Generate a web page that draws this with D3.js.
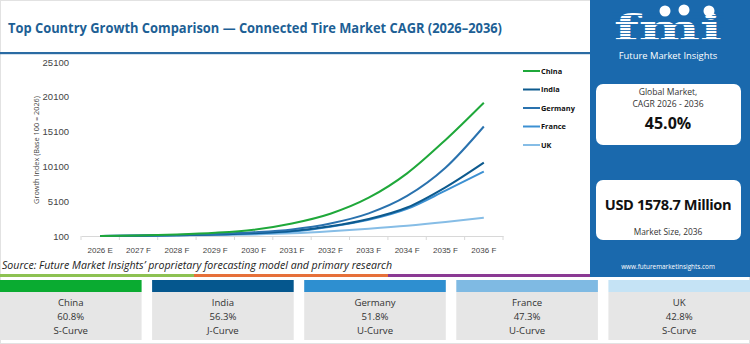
<!DOCTYPE html>
<html lang="en">
<head>
  <meta charset="UTF-8">
  <title>Connected Tire Market CAGR</title>
  <script src="https://d3js.org/d3.v7.min.js"></script>
  <style>
    body, html {
      margin: 0;
      padding: 0;
      background: #fff;
    }
    svg { display: block; font-family: "Open Sans", Roboto, sans-serif; }
    .axis text { fill: #444; }
    .axis path, .axis line { stroke: #d8d8d8; }
  </style>
</head>
<body>
  <svg id="chart" width="750" height="344"></svg>

  <script>
    // data
    const years = ["2026 E", "2027 F", "2028 F", "2029 F", "2030 F", "2031 F",
                   "2032 F", "2033 F", "2034 F", "2035 F", "2036 F"];
    const china   = [100, 180, 320, 560, 1000, 1900, 3300, 5600, 9100, 13900, 19250];
    const india   = [100, 145, 215, 320, 500, 820, 1500, 2550, 4200, 7100, 10650];
    const germany = [100, 160, 255, 400, 640, 1050, 1900, 3350, 5850, 9900, 15830];
    const france  = [100, 140, 205, 300, 455, 730, 1420, 2420, 4000, 6620, 9350];
    const uk      = [100, 130, 170, 230, 330, 490, 776, 1150, 1580, 2115, 2730];
    const yTicks = [100, 5100, 10100, 15100, 20100, 25100];

    const countries = ["China", "India", "Germany", "France", "UK"];
    const cagr = ["60.8%", "56.3%", "51.8%", "47.3%", "42.8%"];
    const curveType = ["S-Curve", "J-Curve", "U-Curve", "U-Curve", "S-Curve"];
    const lineColors = ["#1fa83a", "#0d5a8e", "#2a72ae", "#3c90d2", "#86bde6"];
    const cardColors = ["#0aab31", "#05578e", "#2e8fd0", "#7fbae3", "#c5e3f5"];

    const series = [china, india, germany, france, uk];

    const svg = d3.select("#chart");

    // outer frame
    svg.append("rect").attr("x", 0.5).attr("y", 0.5).attr("width", 749).attr("height", 343)
      .attr("fill", "none").attr("stroke", "#e2e2e2");

    // title
    svg.append("text")
      .attr("x", 8).attr("y", 33)
      .attr("font-size", 13.6).attr("font-weight", 700)
      .attr("fill", "#1d5f95")
      .attr("textLength", 494).attr("lengthAdjust", "spacingAndGlyphs")
      .text("Top Country Growth Comparison \u2014 Connected Tire Market CAGR (2026\u20132036)");

    svg.append("rect").attr("x", 0).attr("y", 52).attr("width", 590).attr("height", 2.2)
      .attr("fill", "#2a6ba3");

    // chart
    const x = d3.scaleBand().domain(years).range([81, 503]);
    const y = d3.scaleLinear().domain([100, 25100]).range([236, 62]);

    const xAxis = svg.append("g").attr("class", "axis")
      .attr("transform", "translate(0,236)")
      .call(d3.axisBottom(x).tickSize(0).tickPadding(11));
    xAxis.selectAll("text").attr("font-size", 8);
    // tick marks on band boundaries
    xAxis.selectAll(".bound")
      .data(years.concat([null]))
      .enter().append("line")
      .attr("class", "bound")
      .attr("x1", (d, i) => 81 + i * x.step()).attr("x2", (d, i) => 81 + i * x.step())
      .attr("y1", 0).attr("y2", 4)
      .attr("stroke", "#d8d8d8");

    const yAxis = svg.append("g").attr("class", "axis")
      .attr("transform", "translate(72,0)")
      .call(d3.axisLeft(y).tickValues(yTicks).tickSize(0).tickPadding(3).tickFormat(d3.format("d")));
    yAxis.select(".domain").remove();
    yAxis.selectAll("text").attr("font-size", 9.5);

    svg.append("text")
      .attr("transform", "translate(39,150) rotate(-90)")
      .attr("text-anchor", "middle")
      .attr("font-size", 7.3).attr("fill", "#444")
      .text("Growth Index (Base 100 = 2026)");

    const line = d3.line()
      .x((d, i) => x(years[i]) + x.bandwidth() / 2)
      .y(d => y(d))
      .curve(d3.curveMonotoneX);

    // draw lowest first so China sits on top
    [4, 3, 1, 2, 0].forEach(k => {
      svg.append("path")
        .datum(series[k])
        .attr("d", line)
        .attr("fill", "none")
        .attr("stroke", lineColors[k])
        .attr("stroke-width", 2);
    });

    // legend
    const legend = svg.append("g");
    countries.forEach((c, i) => {
      const ly = 71 + i * 18.5;
      legend.append("line").attr("x1", 523).attr("x2", 540).attr("y1", ly).attr("y2", ly)
        .attr("stroke", lineColors[i]).attr("stroke-width", 2);
      legend.append("text").attr("x", 541).attr("y", ly + 2.6)
        .attr("font-size", 7.4).attr("font-weight", 700).attr("fill", "#111")
        .text(c);
    });

    // source
    svg.append("text")
      .attr("x", 2).attr("y", 269)
      .attr("font-size", 10.6).attr("font-style", "italic").attr("fill", "#222")
      .text("Source: Future Market Insights\u2019 proprietary forecasting model and primary research");

    // colour stripe
    const stripe = [["#8dc152", 0, 194], ["#e6703a", 194, 388], ["#8b3a94", 388, 590]];
    stripe.forEach(s => {
      svg.append("rect").attr("x", s[1]).attr("y", 274).attr("width", s[2] - s[1]).attr("height", 3)
        .attr("fill", s[0]);
    });

    // right panel
    const px = 590;
    svg.append("rect").attr("x", px).attr("y", 0).attr("width", 160).attr("height", 277)
      .attr("fill", "#1a69ad");

    // logo
    const logo = svg.append("g");
    logo.append("text")
      .attr("x", 668).attr("y", 40)
      .attr("text-anchor", "middle")
      .attr("font-family", "'DejaVu Serif', serif")
      .attr("font-size", 36).attr("font-weight", 700)
      .attr("textLength", 108).attr("lengthAdjust", "spacingAndGlyphs")
      .attr("fill", "#fff")
      .text("fmi");
    d3.range(12, 42, 3).forEach(sy => {
      logo.append("rect").attr("x", 612).attr("y", sy).attr("width", 112).attr("height", 0.9)
        .attr("fill", "#1a69ad");
    });
    [[665, 11], [684, 10], [709, 11]].forEach(c => {
      logo.append("circle").attr("cx", c[0]).attr("cy", c[1]).attr("r", 5.5).attr("fill", "#fff");
    });
    logo.append("text")
      .attr("x", 668).attr("y", 58.5).attr("text-anchor", "middle")
      .attr("font-size", 9.4).attr("fill", "#fff")
      .text("Future Market Insights");

    // info boxes
    svg.append("rect").attr("x", 596).attr("y", 84).attr("width", 145).attr("height", 61)
      .attr("rx", 7).attr("fill", "#fff");
    svg.append("text").attr("x", 668).attr("y", 95).attr("text-anchor", "middle")
      .attr("font-size", 8.6).attr("fill", "#333").text("Global Market,");
    svg.append("text").attr("x", 668).attr("y", 107).attr("text-anchor", "middle")
      .attr("font-size", 8.6).attr("fill", "#333").text("CAGR 2026 - 2036");
    svg.append("text").attr("x", 668).attr("y", 129).attr("text-anchor", "middle")
      .attr("font-size", 16).attr("font-weight", 700).attr("fill", "#111").text("45.0%");

    svg.append("rect").attr("x", 596).attr("y", 180).attr("width", 145).attr("height", 60)
      .attr("rx", 7).attr("fill", "#fff");
    svg.append("text").attr("x", 668).attr("y", 210).attr("text-anchor", "middle")
      .attr("font-size", 14.6).attr("font-weight", 700).attr("fill", "#111")
      .attr("letter-spacing", -0.4).text("USD 1578.7 Million");
    svg.append("text").attr("x", 668).attr("y", 235).attr("text-anchor", "middle")
      .attr("font-size", 8.4).attr("fill", "#333").text("Market Size, 2036");

    svg.append("text").attr("x", 668).attr("y", 269).attr("text-anchor", "middle")
      .attr("font-size", 6.4).attr("fill", "#fff").text("www.futuremarketinsights.com");

    // country cards
    const cardW = 141.6, cardStep = 152.1;
    countries.forEach((c, i) => {
      const cx = i * cardStep;
      const g = svg.append("g");
      g.append("rect").attr("x", cx).attr("y", 292).attr("width", cardW).attr("height", 48)
        .attr("fill", "#e6e6e6");
      g.append("rect").attr("x", cx).attr("y", 280).attr("width", cardW).attr("height", 12)
        .attr("fill", cardColors[i]);
      [c, cagr[i], curveType[i]].forEach((t, j) => {
        g.append("text").attr("x", cx + cardW / 2).attr("y", 305.5 + j * 14)
          .attr("text-anchor", "middle").attr("font-size", 9.6).attr("fill", "#333")
          .text(t);
      });
    });
  </script>
</body>
</html>
